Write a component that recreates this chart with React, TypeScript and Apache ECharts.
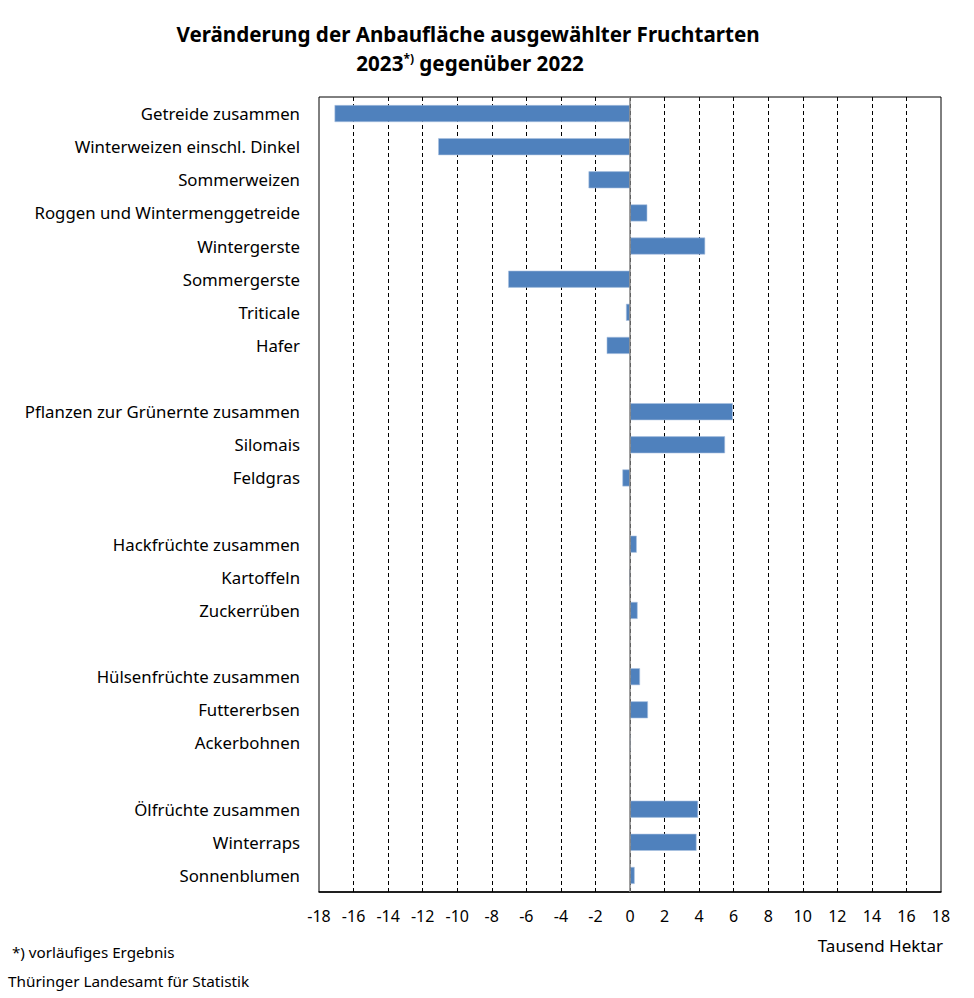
import React, { useEffect, useRef } from "react";
import * as echarts from "echarts";

const categories = [
  "Getreide zusammen",
  "Winterweizen einschl. Dinkel",
  "Sommerweizen",
  "Roggen und Wintermenggetreide",
  "Wintergerste",
  "Sommergerste",
  "Triticale",
  "Hafer",
  "",
  "Pflanzen zur Grünernte zusammen",
  "Silomais",
  "Feldgras",
  " ",
  "Hackfrüchte zusammen",
  "Kartoffeln",
  "Zuckerrüben",
  "  ",
  "Hülsenfrüchte zusammen",
  "Futtererbsen",
  "Ackerbohnen",
  "   ",
  "Ölfrüchte zusammen",
  "Winterraps",
  "Sonnenblumen",
];

const changes: (number | null)[] = [
  -17.1, -11.1, -2.4, 1.0, 4.35, -7.05, -0.23, -1.35,
  null,
  5.95, 5.5, -0.44,
  null,
  0.39, -0.03, 0.44,
  null,
  0.58, 1.04, 0.04,
  null,
  3.94, 3.85, 0.27,
];

const xMin = -18;
const xMax = 18;
const xStep = 2;

const titleLine1 = "Veränderung der Anbaufläche ausgewählter Fruchtarten";
const unitLabel = "Tausend Hektar";
const footnote = "*) vorläufiges Ergebnis";
const source = "Thüringer Landesamt für Statistik";

const FONT = "'Noto Sans', 'Open Sans', sans-serif";

export default function App() {
  const ref = useRef<HTMLDivElement>(null);
  useEffect(() => {
    if (!ref.current) return;
    const chart = echarts.init(ref.current, undefined, { renderer: "svg" });
    chart.setOption({
      animation: false,
      backgroundColor: "#ffffff",
      textStyle: { fontFamily: FONT },
      grid: {
        left: 319,
        right: 33,
        top: 97,
        bottom: 106,
        show: true,
        borderColor: "#000000",
        borderWidth: 1,
        containLabel: false,
      },
      xAxis: {
        type: "value",
        min: xMin,
        max: xMax,
        interval: xStep,
        axisLine: { show: true, lineStyle: { color: "#000000", width: 1.5 } },
        axisTick: { show: false },
        axisLabel: {
          color: "#000000",
          fontSize: 16,
          fontFamily: FONT,
          margin: 16,
        },
        splitLine: {
          show: true,
          showMinLine: false,
          showMaxLine: false,
          lineStyle: { color: "#000000", type: [4, 3], width: 1 },
        },
      },
      yAxis: {
        type: "category",
        data: categories,
        inverse: true,
        axisLine: { show: false },
        axisTick: { show: false },
        splitLine: { show: false },
        axisLabel: {
          color: "#000000",
          fontSize: 16.8,
          fontFamily: FONT,
          margin: 19,
          interval: 0,
        },
      },
      series: [
        {
          type: "bar",
          data: changes,
          barWidth: 17,
          itemStyle: {
            color: "#4F81BD",
            borderColor: "#A9C1E0",
            borderWidth: 0.6,
          },
          markLine: {
            silent: true,
            symbol: "none",
            label: { show: false },
            lineStyle: { color: "#808080", type: "solid", width: 1.5 },
            data: [{ xAxis: 0 }],
          },
        },
      ],
      graphic: [
        {
          type: "text",
          x: 468,
          y: 34,
          style: {
            text: titleLine1,
            align: "center",
            verticalAlign: "middle",
            fontFamily: FONT,
            fontSize: 20.6,
            fontWeight: "bold",
            fill: "#000000",
          },
        },
        {
          type: "text",
          x: 470,
          y: 63,
          style: {
            text: "{a|2023}{s|*)}{a| gegenüber 2022}",
            align: "center",
            verticalAlign: "middle",
            fontFamily: FONT,
            rich: {
              a: { fontSize: 20.6, fontWeight: "bold", fill: "#000000", fontFamily: FONT, lineHeight: 28 },
              s: { fontSize: 12, fontWeight: "bold", fill: "#000000", fontFamily: FONT, lineHeight: 28, padding: [0, 0, 10, 0] },
            },
          },
        },
        {
          type: "text",
          x: 943,
          y: 945,
          style: {
            text: unitLabel,
            align: "right",
            verticalAlign: "middle",
            fontFamily: FONT,
            fontSize: 17,
            fill: "#000000",
          },
        },
        {
          type: "text",
          x: 12,
          y: 952,
          style: {
            text: footnote,
            align: "left",
            verticalAlign: "middle",
            fontFamily: FONT,
            fontSize: 15.2,
            fill: "#000000",
          },
        },
        {
          type: "text",
          x: 8,
          y: 981,
          style: {
            text: source,
            align: "left",
            verticalAlign: "middle",
            fontFamily: FONT,
            fontSize: 15.3,
            fill: "#000000",
          },
        },
      ],
    });
    return () => chart.dispose();
  }, []);
  return (
    <div
      ref={ref}
      style={{ position: "absolute", left: 0, top: 0, width: 974, height: 998 }}
    />
  );
}
